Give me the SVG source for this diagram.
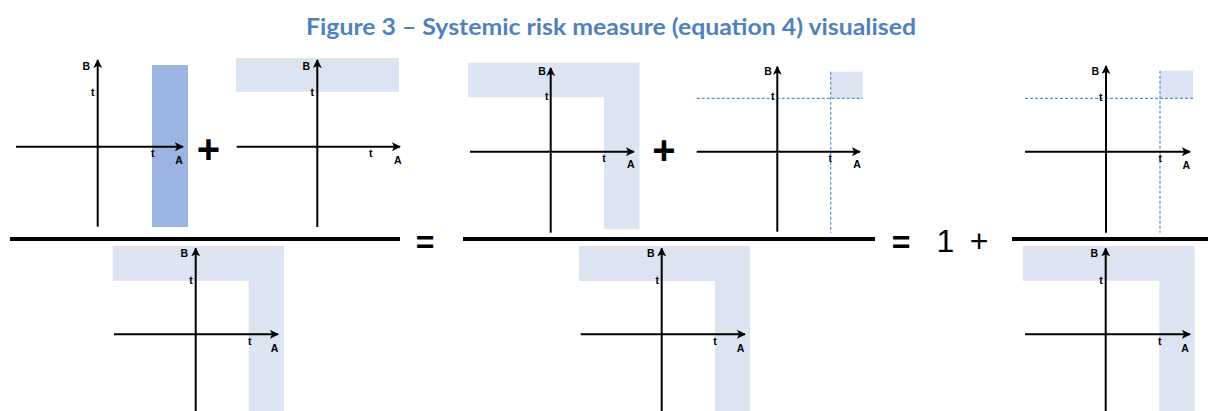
<svg xmlns="http://www.w3.org/2000/svg" width="1208" height="411" viewBox="0 0 1208 411">
<defs>
<marker id="arr" viewBox="0 0 10 10" markerWidth="4.5" markerHeight="4.5" refX="9" refY="5" orient="auto">
<path d="M0,0 L10,5 L0,10 L2.5,5 z" fill="#000"/>
</marker>
<style>
.ax{stroke:#000;stroke-width:2;fill:none;marker-end:url(#arr)}
.lt{fill:#DCE4F2}
.dk{fill:#9BB4E1}
.ds{stroke:#5B8FD0;stroke-width:1.2;stroke-dasharray:3,2;fill:none}
.lb{font-family:"Liberation Sans",Arial,sans-serif;font-weight:bold;font-size:10.5px;fill:#000;text-anchor:middle}
.op{font-family:"Liberation Sans",Arial,sans-serif;font-size:32px;fill:#000;text-anchor:middle}
.pl{font-family:"Liberation Sans",Arial,sans-serif;font-size:40px;font-weight:bold;fill:#000;text-anchor:middle}
.bar{stroke:#000;stroke-width:4}
</style>
</defs>
<rect width="1208" height="411" fill="#fff"/>
<text x="306" y="35" textLength="610" lengthAdjust="spacingAndGlyphs" font-family="Lato, 'Open Sans', sans-serif" font-weight="bold" font-size="23" fill="#4F81BD">Figure 3 – Systemic risk measure (equation 4) visualised</text>

<g id="panel1">
<rect class="dk" x="152" y="65" width="36" height="162"/>
<line class="ax" x1="97.7" y1="226.7" x2="97.7" y2="60"/>
<line class="ax" x1="16" y1="146.7" x2="183" y2="146.7"/>
<text class="lb" x="86.3" y="69.5">B</text>
<text class="lb" x="92.7" y="96.2">t</text>
<text class="lb" x="152.7" y="156.9">t</text>
<text class="lb" x="179" y="163.7">A</text>
</g>
<text class="pl" x="208.5" y="163">+</text>
<g id="panel2">
<rect class="lt" x="236" y="58" width="163" height="33.7"/>
<line class="ax" x1="317.3" y1="227" x2="317.3" y2="60"/>
<line class="ax" x1="236.7" y1="146.7" x2="400" y2="146.7"/>
<text class="lb" x="306.3" y="69.5">B</text>
<text class="lb" x="312.3" y="96.2">t</text>
<text class="lb" x="370.7" y="156.9">t</text>
<text class="lb" x="397.7" y="163.7">A</text>
</g>
<g id="panel3">
<path class="lt" d="M468,62.7 H639.5 V229.3 H604 V97.3 H468 Z"/>
<line class="ax" x1="550.7" y1="232.7" x2="550.7" y2="68"/>
<line class="ax" x1="470" y1="151.7" x2="634" y2="151.7"/>
<text class="lb" x="542" y="75.2">B</text>
<text class="lb" x="546.7" y="100.2">t</text>
<text class="lb" x="604" y="161.7">t</text>
<text class="lb" x="630.7" y="167.5">A</text>
</g>
<text class="pl" x="664" y="164">+</text>
<g id="panel4">
<rect class="lt" x="830.7" y="71.7" width="32" height="26.6"/>
<line class="ds" x1="696.7" y1="98.3" x2="862.7" y2="98.3"/>
<line class="ds" x1="830.7" y1="71.7" x2="830.7" y2="232.7"/>
<line class="ax" x1="777.3" y1="231.7" x2="777.3" y2="66.7"/>
<line class="ax" x1="696.7" y1="151.7" x2="860" y2="151.7"/>
<text class="lb" x="768" y="75.2">B</text>
<text class="lb" x="772.7" y="100.2">t</text>
<text class="lb" x="830.3" y="161.7">t</text>
<text class="lb" x="857" y="167.5">A</text>
</g>
<g id="panel5">
<rect class="lt" x="1160" y="70.7" width="33" height="27.6"/>
<line class="ds" x1="1025" y1="98.3" x2="1193" y2="98.3"/>
<line class="ds" x1="1160" y1="70.7" x2="1160" y2="232.7"/>
<line class="ax" x1="1106" y1="232.7" x2="1106" y2="66"/>
<line class="ax" x1="1025" y1="151.7" x2="1190" y2="151.7"/>
<text class="lb" x="1095.3" y="75.2">B</text>
<text class="lb" x="1100.7" y="100.7">t</text>
<text class="lb" x="1160.3" y="161.9">t</text>
<text class="lb" x="1186.3" y="168.7">A</text>
</g>

<g id="fraction-bars">
<line class="bar" x1="10" y1="239" x2="400" y2="239"/>
<line class="bar" x1="463" y1="239" x2="875" y2="239"/>
<line class="bar" x1="1012" y1="239" x2="1208" y2="239"/>
</g>
<text class="op" x="425" y="252.5" font-weight="bold">=</text>
<text class="op" x="901" y="252.5" font-weight="bold">=</text>
<text class="op" x="945.5" y="252">1</text>
<text class="op" x="979" y="252">+</text>

<g id="panel6">
<path class="lt" d="M112.7,246 H284 V411 H248.7 V280.7 H112.7 Z"/>
<line class="ax" x1="195.7" y1="411" x2="195.7" y2="248.3"/>
<line class="ax" x1="114" y1="334.3" x2="278" y2="334.3"/>
<text class="lb" x="184.3" y="256.9">B</text>
<text class="lb" x="191" y="284.2">t</text>
<text class="lb" x="249.7" y="345.2">t</text>
<text class="lb" x="274.5" y="351.9">A</text>
</g>
<g id="panel7">
<path class="lt" d="M579,246 H750 V411 H715 V281 H579 Z"/>
<line class="ax" x1="661.7" y1="411" x2="661.7" y2="248.3"/>
<line class="ax" x1="580.7" y1="334.3" x2="745" y2="334.3"/>
<text class="lb" x="650.7" y="256.9">B</text>
<text class="lb" x="657.3" y="284.2">t</text>
<text class="lb" x="715" y="345.2">t</text>
<text class="lb" x="740.5" y="351.9">A</text>
</g>
<g id="panel8">
<path class="lt" d="M1022.7,246 H1194.5 V411 H1159.3 V280.7 H1022.7 Z"/>
<line class="ax" x1="1105.7" y1="411" x2="1105.7" y2="248.3"/>
<line class="ax" x1="1025" y1="334.3" x2="1190" y2="334.3"/>
<text class="lb" x="1094.3" y="256.9">B</text>
<text class="lb" x="1101" y="284.2">t</text>
<text class="lb" x="1159.7" y="345.2">t</text>
<text class="lb" x="1185" y="351.9">A</text>
</g>
</svg>
